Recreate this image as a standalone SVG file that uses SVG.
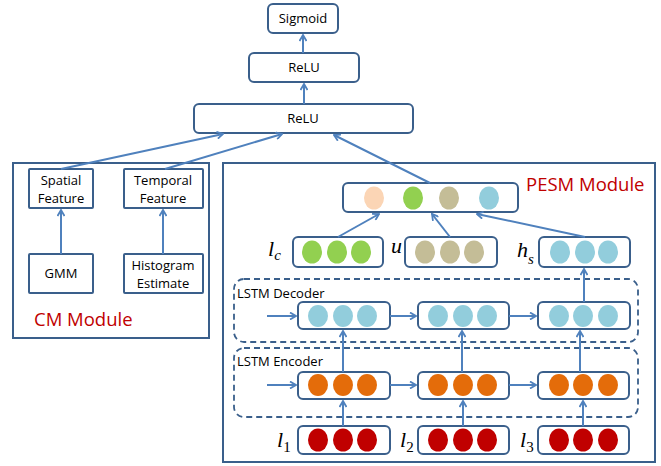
<svg xmlns="http://www.w3.org/2000/svg" width="661" height="466" viewBox="0 0 661 466">
<defs>
<marker id="ah" markerWidth="8" markerHeight="8" refX="7" refY="4" orient="auto" markerUnits="userSpaceOnUse">
<path d="M1,0.5 L7,4 L1,7.5" fill="none" stroke="#4F81BD" stroke-width="1.8"/>
</marker>
<style>
.box{fill:#fff;stroke:#3A5F8B;stroke-width:2}
.outer{fill:none;stroke:#3A5F8B;stroke-width:2}
.dash{fill:none;stroke:#3A5F8B;stroke-width:1.8;stroke-dasharray:6 4}
.t{font-family:"Open Sans","Liberation Sans",sans-serif;font-size:13px;fill:#000;text-anchor:middle}
.tl{font-family:"Open Sans","Liberation Sans",sans-serif;font-size:13px;fill:#000}
.red{font-family:"Open Sans","Liberation Sans",sans-serif;font-size:18.5px;fill:#C00000}
.var{font-family:"Liberation Serif",serif;font-style:italic;font-size:22px;fill:#000}
.sub{font-size:15px}
.num{font-size:15px;font-style:normal}
.c line,.c path{stroke:#4F81BD;stroke-width:2;fill:none;marker-end:url(#ah)}
.pe{fill:#FBD5B5}.gr{fill:#92D050}.tn{fill:#C4BD97}.bl{fill:#92CDDC}.or{fill:#E46C0A}.dr{fill:#C00000}
</style>
</defs>
<rect width="661" height="466" fill="#fff"/>

<g id="cm-module">
<rect class="outer" x="13" y="163" width="196" height="175"/>
<text class="red" x="34" y="326">CM Module</text>
</g>
<g id="pesm-module">
<rect class="outer" x="223" y="163" width="432" height="299"/>
<text class="red" x="526" y="191">PESM Module</text>
</g>
<g id="lstm-decoder">
<rect class="dash" x="234" y="279" width="404" height="63" rx="10"/>
<text class="tl" x="237" y="298">LSTM Decoder</text>
</g>
<g id="lstm-encoder">
<rect class="dash" x="234" y="348" width="404" height="69" rx="10"/>
<text class="tl" x="237" y="366">LSTM Encoder</text>
</g>

<g id="sigmoid"><rect class="box" x="268" y="4" width="70" height="29" rx="5"/><text class="t" x="303" y="23">Sigmoid</text></g>
<g id="relu2"><rect class="box" x="249" y="53" width="110" height="29" rx="5"/><text class="t" x="304" y="72">ReLU</text></g>
<g id="relu1"><rect class="box" x="194" y="104" width="219" height="29" rx="5"/><text class="t" x="303" y="123">ReLU</text></g>

<g id="spatial"><rect class="box" x="29" y="169" width="64" height="39" rx="1"/><text class="t" x="61" y="185">Spatial</text><text class="t" x="61" y="203">Feature</text></g>
<g id="temporal"><rect class="box" x="124" y="169" width="79" height="39" rx="1"/><text class="t" x="163" y="185">Temporal</text><text class="t" x="163" y="203">Feature</text></g>
<g id="gmm"><rect class="box" x="29" y="254" width="64" height="39" rx="1"/><text class="t" x="61" y="278">GMM</text></g>
<g id="histogram"><rect class="box" x="124" y="254" width="79" height="39" rx="1"/><text class="t" x="163" y="270">Histogram</text><text class="t" x="163" y="288">Estimate</text></g>

<g id="concat">
<rect class="box" x="343" y="183" width="175" height="29" rx="5"/>
<ellipse class="pe" cx="374" cy="198" rx="10" ry="11.5"/>
<ellipse class="gr" cx="413" cy="198" rx="10" ry="11.5"/>
<ellipse class="tn" cx="449" cy="198" rx="10" ry="11.5"/>
<ellipse class="bl" cx="489" cy="198" rx="10" ry="11.5"/>
</g>

<g id="lc">
<rect class="box" x="293" y="237" width="90" height="30" rx="5"/>
<ellipse class="gr" cx="312" cy="252" rx="10" ry="11.5"/>
<ellipse class="gr" cx="337" cy="252" rx="10" ry="11.5"/>
<ellipse class="gr" cx="361" cy="252" rx="10" ry="11.5"/>
<text class="var" x="268" y="256">l<tspan class="sub" dy="4">c</tspan></text>
</g>
<g id="u">
<rect class="box" x="405" y="237" width="92" height="30" rx="5"/>
<ellipse class="tn" cx="425" cy="252" rx="10" ry="11.5"/>
<ellipse class="tn" cx="450" cy="252" rx="10" ry="11.5"/>
<ellipse class="tn" cx="474" cy="252" rx="10" ry="11.5"/>
<text class="var" x="391" y="253">u</text>
</g>
<g id="hs">
<rect class="box" x="539" y="237" width="91" height="30" rx="5"/>
<ellipse class="bl" cx="560" cy="252" rx="10" ry="11.5"/>
<ellipse class="bl" cx="585" cy="252" rx="10" ry="11.5"/>
<ellipse class="bl" cx="608" cy="252" rx="10" ry="11.5"/>
<text class="var" x="517" y="257">h<tspan class="sub" dy="7">s</tspan></text>
</g>

<g id="dec1"><rect class="box" x="298" y="302" width="92" height="27" rx="5"/>
<ellipse class="bl" cx="318" cy="316" rx="10" ry="11"/><ellipse class="bl" cx="343" cy="316" rx="10" ry="11"/><ellipse class="bl" cx="367" cy="316" rx="10" ry="11"/></g>
<g id="dec2"><rect class="box" x="418" y="302" width="91" height="27" rx="5"/>
<ellipse class="bl" cx="438" cy="316" rx="10" ry="11"/><ellipse class="bl" cx="463" cy="316" rx="10" ry="11"/><ellipse class="bl" cx="487" cy="316" rx="10" ry="11"/></g>
<g id="dec3"><rect class="box" x="538" y="302" width="92" height="27" rx="5"/>
<ellipse class="bl" cx="559" cy="316" rx="10" ry="11"/><ellipse class="bl" cx="583" cy="316" rx="10" ry="11"/><ellipse class="bl" cx="608" cy="316" rx="10" ry="11"/></g>

<g id="enc1"><rect class="box" x="298" y="372" width="92" height="27" rx="5"/>
<ellipse class="or" cx="318" cy="385" rx="10" ry="11"/><ellipse class="or" cx="343" cy="385" rx="10" ry="11"/><ellipse class="or" cx="367" cy="385" rx="10" ry="11"/></g>
<g id="enc2"><rect class="box" x="418" y="372" width="91" height="27" rx="5"/>
<ellipse class="or" cx="438" cy="385" rx="10" ry="11"/><ellipse class="or" cx="463" cy="385" rx="10" ry="11"/><ellipse class="or" cx="487" cy="385" rx="10" ry="11"/></g>
<g id="enc3"><rect class="box" x="538" y="372" width="91" height="27" rx="5"/>
<ellipse class="or" cx="559" cy="385" rx="10" ry="11"/><ellipse class="or" cx="583" cy="385" rx="10" ry="11"/><ellipse class="or" cx="608" cy="385" rx="10" ry="11"/></g>

<g id="in1"><rect class="box" x="298" y="426" width="92" height="28" rx="5"/>
<ellipse class="dr" cx="318" cy="440" rx="10" ry="11.5"/><ellipse class="dr" cx="343" cy="440" rx="10" ry="11.5"/><ellipse class="dr" cx="367" cy="440" rx="10" ry="11.5"/>
<text class="var" x="277" y="447">l<tspan class="num" dy="5">1</tspan></text></g>
<g id="in2"><rect class="box" x="418" y="426" width="91" height="28" rx="5"/>
<ellipse class="dr" cx="438" cy="440" rx="10" ry="11.5"/><ellipse class="dr" cx="463" cy="440" rx="10" ry="11.5"/><ellipse class="dr" cx="487" cy="440" rx="10" ry="11.5"/>
<text class="var" x="400" y="447">l<tspan class="num" dy="5">2</tspan></text></g>
<g id="in3"><rect class="box" x="538" y="426" width="91" height="28" rx="5"/>
<ellipse class="dr" cx="559" cy="440" rx="10" ry="11.5"/><ellipse class="dr" cx="583" cy="440" rx="10" ry="11.5"/><ellipse class="dr" cx="608" cy="440" rx="10" ry="11.5"/>
<text class="var" x="520" y="447">l<tspan class="num" dy="5">3</tspan></text></g>

<g id="connectors" class="c">
<line x1="303" y1="53" x2="303" y2="35"/>
<line x1="304" y1="104" x2="304" y2="84"/>
<line x1="61" y1="169" x2="223" y2="134"/>
<line x1="165" y1="169" x2="282" y2="134"/>
<line x1="430" y1="183" x2="334" y2="135"/>
<line x1="61" y1="254" x2="61" y2="210"/>
<line x1="163" y1="254" x2="163" y2="210"/>
<line x1="338" y1="237" x2="379" y2="214"/>
<line x1="450" y1="237" x2="432" y2="214"/>
<line x1="585" y1="237" x2="477" y2="214"/>
<line x1="584" y1="302" x2="584" y2="269"/>
<line x1="267" y1="316" x2="296" y2="316"/>
<line x1="390" y1="316" x2="416" y2="316"/>
<line x1="509" y1="316" x2="536" y2="316"/>
<line x1="267" y1="385" x2="296" y2="385"/>
<line x1="390" y1="385" x2="416" y2="385"/>
<line x1="509" y1="385" x2="536" y2="385"/>
<line x1="343" y1="372" x2="343" y2="331"/>
<line x1="462" y1="372" x2="462" y2="331"/>
<line x1="580" y1="372" x2="580" y2="331"/>
<line x1="343" y1="426" x2="343" y2="401"/>
<line x1="463" y1="426" x2="463" y2="401"/>
<line x1="583" y1="426" x2="583" y2="401"/>
</g>
</svg>
